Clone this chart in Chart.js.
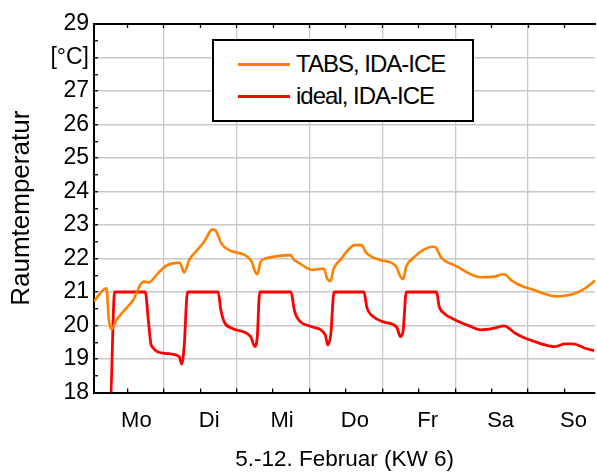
<!DOCTYPE html>
<html>
<head>
<meta charset="utf-8">
<script src="https://cdn.jsdelivr.net/npm/chart.js@4"></script>
<style>
  html, body { margin: 0; padding: 0; background: #fff; }
  #wrap { position: relative; width: 597px; height: 474px; overflow: hidden; }
  #legend {
    position: absolute; left: 212px; top: 39px; width: 258px; height: 79px;
    border: 2px solid #000; background: #fff;
    font-family: 'Liberation Sans', Arial, sans-serif; font-size: 24px;
    letter-spacing: -1px; color: #000;
  }
  #legend .row { position: absolute; left: 0; height: 28px; display: flex; align-items: center; }
  #legend .swatch { display: inline-block; width: 52px; height: 3px; margin-left: 24px; margin-right: 6px; }
</style>
</head>
<body>
<div id="wrap">
  <canvas id="chart"></canvas>
  <div id="legend"></div>
</div>
<script>
(function () {
  'use strict';

  // hours since Monday 00:00
  var tabsHours = [1, 5.1, 5.9, 6.75, 8.4, 11.1, 13.9, 16.6, 17.7, 19, 22, 24.7, 28.5, 29.3,
    30.7, 32.4, 35, 37.3, 40, 41.1, 43.1, 45.5, 52.8, 54.1, 54.8, 55.9, 57.6, 61.4, 65.8,
    66.9, 68.5, 72.9, 76.7, 77.8, 78.9, 80, 82.6, 84.2, 86.9, 89.1, 90.8, 95.1, 100.6,
    101.7, 102.8, 103.9, 106.6, 109.4, 112.5, 113.6, 115.3, 120.2, 128.4, 132.8, 136.1,
    138.7, 141.9, 145.3, 149.7, 152.9, 158.9, 162.8, 166.1];
  var tabsTemp = [20.73, 21.11, 20.16, 19.89, 20.16, 20.46, 20.76, 21.26, 21.31, 21.28, 21.55,
    21.78, 21.87, 21.87, 21.58, 21.96, 22.25, 22.5, 22.87, 22.83, 22.43, 22.25, 21.93, 21.61,
    21.53, 21.9, 22.0, 22.07, 22.1, 21.96, 21.87, 21.66, 21.7, 21.4, 21.33, 21.7, 22.0, 22.2,
    22.4, 22.4, 22.16, 21.96, 21.76, 21.51, 21.38, 21.76, 22.05, 22.25, 22.35, 22.33, 22.04,
    21.78, 21.44, 21.46, 21.53, 21.34, 21.18, 21.08, 20.94, 20.87, 20.94, 21.11, 21.34];

  var idealHours = [1, 6.2, 7.8, 17.9, 18.8, 19.7, 20.1, 24.3, 29.1, 29.9, 30.7, 31.8, 41.9,
    42.8, 43.9, 46.6, 52.6, 54, 54.8, 55.6, 65.9, 67, 67.9, 72.8, 77.2, 78, 79, 80.1, 89.9,
    91, 92.4, 96.2, 100.6, 101.1, 101.9, 102.8, 103.9, 113.9, 114.7, 116.4, 120.2, 124.6,
    128.4, 132.8, 136.1, 139.8, 143.1, 145.3, 149.7, 152.9, 156.2, 158.9, 162.8, 165.8];
  var idealTemp = [17.2, 17.3, 21, 21, 20.26, 19.47, 19.37, 19.17, 19.07, 18.85, 19.37, 21, 21,
    20.46, 20.11, 19.91, 19.67, 19.37, 19.67, 21, 21, 20.46, 20.24, 19.96, 19.72, 19.42,
    19.72, 21, 21, 20.51, 20.31, 20.11, 19.96, 19.87, 19.67, 19.81, 21, 21, 20.58, 20.36,
    20.16, 19.99, 19.87, 19.92, 19.99, 19.77, 19.62, 19.55, 19.42, 19.37, 19.45, 19.45,
    19.32, 19.25];

  var days = ['Mo', 'Di', 'Mi', 'Do', 'Fr', 'Sa', 'So'];
  var xTicks = [12, 24, 36, 48, 60, 72, 84, 96, 108, 120, 132, 144, 156];
  var yTicks = [18, 18.5, 19, 19.5, 20, 20.5, 21, 21.5, 22, 22.5, 23, 23.5, 24, 24.5,
    25, 25.5, 26, 26.5, 27, 27.5, 28, 28.5, 29];

  var xMin = 1;
  var xMax = 166.1;
  var gridColor = '#c8c8c8';
  var font = "'Liberation Sans', Arial, sans-serif";

  function toPoints(xs, ys) {
    return xs.map(function (x, i) {
      return { x: x, y: ys[i] };
    });
  }

  function setTicks(list) {
    return function (scale) {
      scale.ticks = list.map(function (v) {
        return { value: v };
      });
    };
  }

  Chart.defaults.font.family = font;
  Chart.defaults.color = '#000';

  var chart = new Chart(document.getElementById('chart'), {
    type: 'line',
    data: {
      datasets: [
        {
          label: 'TABS, IDA-ICE',
          data: toPoints(tabsHours, tabsTemp),
          borderColor: '#ff8000',
          borderWidth: 2.6,
          pointRadius: 0,
          cubicInterpolationMode: 'monotone',
        },
        {
          label: 'ideal, IDA-ICE',
          data: toPoints(idealHours, idealTemp),
          borderColor: '#ff0000',
          borderWidth: 2.8,
          pointRadius: 0,
          cubicInterpolationMode: 'monotone',
        },
      ],
    },
    options: {
      responsive: true,
      maintainAspectRatio: false,
      animation: false,
      layout: { padding: { top: 24, left: 0, right: 0, bottom: 0 } },
      plugins: { legend: { display: false }, tooltip: { enabled: false } },
      scales: {
        x: {
          type: 'linear',
          position: 'bottom',
          min: xMin,
          max: xMax,
          afterBuildTicks: setTicks(xTicks),
          afterFit: function (s) { s.height = 81.5; },
          border: { color: '#000', width: 2 },
          grid: {
            color: function (ctx) {
              return ctx.tick && ctx.tick.value % 24 === 0 ? gridColor : 'rgba(0,0,0,0)';
            },
            lineWidth: 1.3,
            tickLength: -4,
            tickColor: '#000',
            tickWidth: 1.3,
          },
          ticks: {
            autoSkip: false,
            maxRotation: 0,
            padding: 19,
            labelOffset: 9,
            font: { size: 22 },
            callback: function (v) {
              if (v % 24 === 12) {
                return days[(v - 12) / 24];
              }
              return '';
            },
          },
          title: {
            display: true,
            text: '5.-12. Februar (KW 6)',
            font: { size: 22.5 },
            padding: 1,
          },
        },
        x2: {
          type: 'linear',
          position: 'top',
          min: xMin,
          max: xMax,
          afterBuildTicks: setTicks(xTicks),
          afterFit: function (s) { s.height = 0; },
          border: { color: '#000', width: 2 },
          grid: { drawOnChartArea: false, tickLength: -4, tickColor: '#000', tickWidth: 1.3 },
          ticks: { display: false },
        },
        y: {
          min: 18,
          max: 29,
          afterBuildTicks: setTicks(yTicks),
          afterFit: function (s) { s.width = 94; },
          border: { color: '#000', width: 2 },
          grid: {
            color: function (ctx) {
              return ctx.tick && ctx.tick.value % 1 === 0 ? gridColor : 'rgba(0,0,0,0)';
            },
            lineWidth: 1.5,
            tickLength: -4,
            tickColor: '#000',
            tickWidth: 1.3,
          },
          ticks: {
            autoSkip: false,
            padding: 9,
            font: { size: 23 },
            callback: function (v) {
              if (v === 28) {
                return '[°C]';
              }
              return v % 1 === 0 ? String(v) : '';
            },
          },
          title: {
            display: true,
            text: 'Raumtemperatur',
            font: { size: 26 },
            padding: 6,
          },
        },
      },
    },
  });

  var legend = document.getElementById('legend');
  chart.data.datasets.forEach(function (ds, i) {
    var row = document.createElement('div');
    row.className = 'row';
    row.style.top = (9 + i * 32) + 'px';
    var sw = document.createElement('span');
    sw.className = 'swatch';
    sw.style.background = ds.borderColor;
    var txt = document.createElement('span');
    txt.textContent = ds.label;
    row.appendChild(sw);
    row.appendChild(txt);
    legend.appendChild(row);
  });
})();
</script>
</body>
</html>
